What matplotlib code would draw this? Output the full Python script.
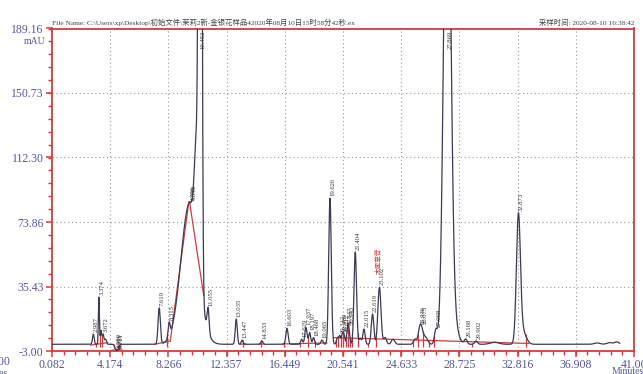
import numpy as np
import matplotlib
matplotlib.use("Agg")
import matplotlib.pyplot as plt
from matplotlib.ticker import FixedLocator

plt.rcParams['font.family'] = ['Liberation Serif', 'Noto Sans CJK SC', 'DejaVu Sans']

# ---- axis ranges ----
X_MIN, X_MAX = 0.082, 41.00
Y_MIN, Y_MAX = -3.00, 189.16
X_TICKS = [0.082, 4.174, 8.266, 12.357, 16.449, 20.541, 24.633, 28.725, 32.816, 36.908, 41.00]
X_TICK_LABELS = ["0.082", "4.174", "8.266", "12.357", "16.449", "20.541", "24.633",
                 "28.725", "32.816", "36.908", "41.00"]
Y_TICKS = [-3.00, 35.43, 73.86, 112.30, 150.73, 189.16]
Y_TICK_LABELS = ["-3.00", "35.43", "73.86", "112.30", "150.73", "189.16"]

# ---- peak table: retention time (min), height above baseline (mAU), width (min) ----
peak_rt = [2.987, 3.374, 3.52, 3.672, 3.85, 4.58, 4.72, 7.619, 8.315,
           9.75, 10.25, 10.50, 11.055, 13.035, 13.447, 14.833,
           16.603, 17.629, 17.937, 18.197, 18.468, 19.065, 19.626,
           20.15, 20.312, 20.489, 20.612, 20.847, 20.943, 21.404, 21.75,
           22.015, 22.619, 23.102, 23.50, 24.06, 25.60, 25.936, 26.075, 26.35,
           27.068, 27.869, 28.30, 29.168, 29.902, 31.20, 32.873, 33.15,
           38.40, 39.30, 39.80]
peak_height = [6.0, 28.0, 8.0, 6.0, 3.0, -3.2, -2.6, 21.5, 8.5,
               84.0, 60.0, 800.0, 14.0, 15.0, 2.5, 2.0,
               9.5, 3.0, 10.0, 7.0, 4.0, 2.5, 87.0,
               4.0, 5.0, 6.0, 5.5, 7.0, 9.0, 55.0, 3.5,
               9.0, 18.0, 34.0, 4.0, 3.0, 3.0, 8.0, 6.0, 4.0,
               8.0, 330.0, 12.0, 3.0, 2.0, 1.2, 74.0, 8.0,
               0.8, 1.0, 1.4]
peak_width = [0.06, 0.035, 0.05, 0.06, 0.06, 0.08, 0.07, 0.08, 0.07,
              0.60, 0.15, 0.09, 0.07, 0.07, 0.06, 0.07,
              0.08, 0.07, 0.08, 0.07, 0.07, 0.08, 0.09,
              0.07, 0.06, 0.06, 0.06, 0.06, 0.07, 0.09, 0.08,
              0.08, 0.09, 0.11, 0.10, 0.12, 0.10, 0.12, 0.12, 0.15,
              0.10, 0.24, 0.30, 0.10, 0.10, 0.30, 0.14, 0.25,
              0.20, 0.20, 0.15]
BASELINE = 1.0
RUN_END = 40.0

# labelled peaks (retention time text) and off-scale peaks
label_rt = [2.987, 3.374, 3.672, 4.58, 4.653, 4.721, 7.619, 8.315, 9.786, 9.848,
            11.055, 13.035, 13.447, 14.833, 16.603, 17.629, 17.937, 18.197, 18.468,
            19.065, 19.626, 20.312, 20.489, 20.612, 20.847, 20.943, 21.404,
            22.015, 22.619, 23.102, 25.936, 26.075, 27.068, 29.168, 29.902, 32.873]
offscale_rt = [10.452, 27.869]
compound_name = "木犀草苷"
compound_rt = 23.102

# integration baselines (t0, v0, t1, v1) and peak boundary marks
base_segments = [(2.80, 0.5, 4.00, 2.0), (4.30, -2.6, 5.00, -1.8),
                 (7.30, 1.0, 8.40, 3.0), (8.40, 3.0, 9.70, 86.0),
                 (9.75, 86.0, 10.75, 30.0), (13.30, 1.0, 13.70, 1.3),
                 (14.60, 1.0, 15.00, 1.2), (16.30, 1.2, 19.40, 1.8),
                 (19.90, 5.0, 33.60, 1.5)]
boundary_marks = [3.20, 3.45, 3.60, 4.45, 4.55, 4.62, 4.70, 4.80, 8.20, 13.50, 14.80,
                  16.40, 17.50, 18.05, 18.60, 20.05, 20.22, 20.40, 20.55, 20.72,
                  20.90, 21.05, 21.18, 21.60, 22.30, 22.85, 25.45, 25.80, 26.20,
                  26.60, 26.95, 29.60, 33.40]

TRACE = "#3b3b55"
RED = "#d8383d"
TICK_TXT = "#5555a5"

t = np.arange(X_MIN, RUN_END, 0.004)
signal = np.full_like(t, BASELINE)
for rt, h, w in zip(peak_rt, peak_height, peak_width):
    signal += h * np.exp(-0.5 * ((t - rt) / w) ** 2)


def sig_at(x):
    return float(np.interp(x, t, signal))


fig = plt.figure(figsize=(6.43, 3.74), dpi=100)
ax = fig.add_axes([52 / 643, 1 - 351 / 374, (634 - 52) / 643, (351 - 28.5) / 374])
ax.set_xlim(X_MIN, X_MAX)
ax.set_ylim(Y_MIN, Y_MAX)

# grid
for x in X_TICKS[1:-1]:
    ax.axvline(x, color="#9a9a9a", lw=0.8, ls=(0, (1, 2.5)), zorder=1)
for y in Y_TICKS[1:-1]:
    ax.axhline(y, color="#9a9a9a", lw=0.8, ls=(0, (1, 2.5)), zorder=1)

# integration baselines and boundary marks
for t0, v0, t1, v1 in base_segments:
    ax.plot([t0, t1], [v0, v1], color=RED, lw=0.9, zorder=2)
for x in boundary_marks:
    y_top = sig_at(x)
    ax.vlines(x, min(y_top, 1.0) - 1.5, y_top + 1.0, color=RED, lw=0.9, zorder=2)

ax.plot(t, signal, color=TRACE, lw=0.9, zorder=3)

# peak labels
for rt in label_rt:
    ax.text(rt + 0.04, sig_at(rt) + 1.2, f"{rt:.3f}", rotation=90, ha="left", va="bottom",
            fontsize=4.8, color="#333333", zorder=4)
for rt in offscale_rt:
    ax.text(rt + 0.06, Y_MAX - 1.5, f"{rt:.3f}", rotation=90, ha="left", va="top",
            fontsize=4.8, color="#333333", zorder=4)
ax.text(compound_rt - 0.30, sig_at(compound_rt) + 8.0, compound_name, rotation=90,
        ha="left", va="bottom", fontsize=4.8, color=RED, zorder=4)

# axes styling
for side in ["left", "right", "top", "bottom"]:
    ax.spines[side].set_color(RED)
    ax.spines[side].set_linewidth(1.3)
ax.xaxis.set_major_locator(FixedLocator(X_TICKS))
ax.xaxis.set_minor_locator(FixedLocator(list(np.arange(X_MIN, X_MAX, (X_TICKS[1] - X_TICKS[0]) / 5))))
ax.yaxis.set_major_locator(FixedLocator(Y_TICKS))
ax.yaxis.set_minor_locator(FixedLocator(list(np.arange(Y_MIN, Y_MAX, (Y_TICKS[1] - Y_TICKS[0]) / 5))))
ax.set_xticklabels(X_TICK_LABELS)
ax.set_yticklabels(Y_TICK_LABELS)
ax.tick_params(which="major", direction="out", length=4, width=1.1, color=RED,
               labelcolor=TICK_TXT, labelsize=8.5, pad=2)
ax.tick_params(which="minor", direction="out", length=3, width=1.0, color=RED)

# header and unit
fig.text(52 / 643, 1 - 26 / 374,
         "File Name: C:\\Users\\xp\\Desktop\\初始文件\\茉莉2新-金银花样品42020年08月10日15时58分42秒.ex",
         fontsize=5.3, color="#444444", ha="left", va="bottom")
fig.text(634 / 643, 1 - 26 / 374, "采样时间: 2020-08-10 16:38:42",
         fontsize=5.3, color="#444444", ha="right", va="bottom")
fig.text(45 / 643, 1 - 41 / 374, "mAU", fontsize=7, color=TICK_TXT, ha="right", va="center")
fig.text(612 / 643, 1 - 371 / 374, "Minutes", fontsize=7, color=TICK_TXT, ha="left", va="center")
fig.text(10 / 643, 1 - 362 / 374, "0.00", fontsize=8.5, color=TICK_TXT, ha="right", va="center")
fig.text(8 / 643, 1 - 373 / 374, "Minutes", fontsize=7, color=TICK_TXT, ha="right", va="center")

fig.savefig("out.png", dpi=100)
